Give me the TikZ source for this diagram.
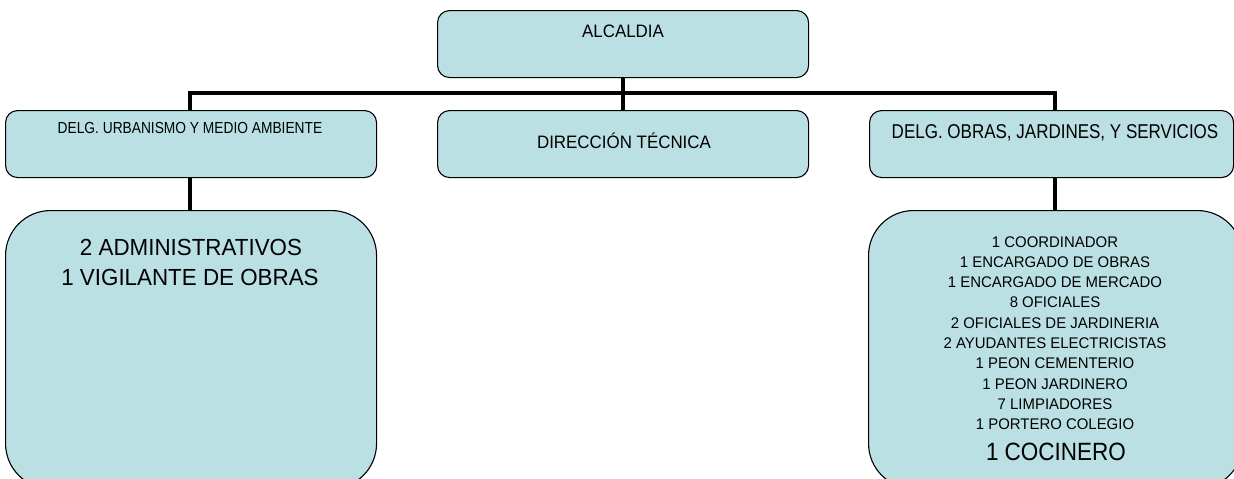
\documentclass[tikz,border=0pt]{standalone}
\usepackage{fontspec}
\setmainfont{Liberation Sans}
\definecolor{boxfill}{RGB}{187,224,227}
\newcommand\myfs[2]{\fontsize{#1}{#1}\selectfont\addfontfeature{FakeStretch=#2}}
\begin{document}
\begin{tikzpicture}[x=1pt,y=-1pt,
  smallbox/.style={draw=black,line width=1.1pt,fill=boxfill,rounded corners=12pt,inner sep=0pt},
  bigbox/.style={draw=black,line width=1.1pt,fill=boxfill,rounded corners=45pt,inner sep=0pt},
  conn/.style={draw=black,line width=4.5pt},
  lbl/.style={anchor=base,inner sep=0pt,text=black}]
\useasboundingbox (0,0) rectangle (1234,479);
\clip (0,0) rectangle (1234,479);
% connectors
\coordinate (alcb) at (623,77);
\coordinate (bar) at (623,93);
\coordinate (urbt) at (190,110);
\coordinate (dirt) at (623,110);
\coordinate (obrt) at (1055,110);
\coordinate (urbb) at (190,177);
\coordinate (obrb) at (1055,177);
\coordinate (admt) at (190,210);
\coordinate (pert) at (1055,210);
\draw[conn] (alcb) -- (dirt);
\draw[conn] (urbt) |- (bar) -| (obrt);
\draw[conn] (urbb) -- (admt);
\draw[conn] (obrb) -- (pert);
% boxes
\path (437,10) node[smallbox,anchor=north west,minimum width=371pt,minimum height=67pt] (alc) {};
\path (5,110) node[smallbox,anchor=north west,minimum width=371pt,minimum height=67pt] (urb) {};
\path (437,110) node[smallbox,anchor=north west,minimum width=371pt,minimum height=67pt] (dir) {};
\path (869,110) node[smallbox,anchor=north west,minimum width=364pt,minimum height=67pt] (obr) {};
\path (5,210) node[bigbox,anchor=north west,minimum width=371pt,minimum height=278pt] (adm) {};
\path (868,210) node[bigbox,anchor=north west,minimum width=374pt,minimum height=278pt] (per) {};
% labels
\node[lbl,font=\myfs{18}{0.94}] (talc) at (623,37) {ALCALDIA};
\node[lbl,font=\myfs{16}{0.86}] (turb) at (190,133) {DELG. URBANISMO Y MEDIO AMBIENTE};
\node[lbl,font=\myfs{18}{0.94}] (tdir) at (624,148) {DIRECCIÓN TÉCNICA};
\node[lbl,font=\myfs{20}{0.85}] (tobr) at (1055,138) {DELG. OBRAS, JARDINES, Y SERVICIOS};
\node[lbl,font=\myfs{23.3}{0.96}] (ta1) at (191,255) {2 ADMINISTRATIVOS};
\node[lbl,font=\myfs{23.3}{0.96}] (ta2) at (190,285) {1 VIGILANTE DE OBRAS};
\foreach \t [count=\i from 0] in {1 COORDINADOR,1 ENCARGADO DE OBRAS,1 ENCARGADO DE MERCADO,8 OFICIALES,2 OFICIALES DE JARDINERIA,2 AYUDANTES ELECTRICISTAS,1 PEON CEMENTERIO,1 PEON JARDINERO,7 LIMPIADORES,1 PORTERO COLEGIO}
  \node[lbl,font=\myfs{15.4}{0.97}] (tp\i) at (1055,247+20.33*\i) {\t};
\node[lbl,font=\myfs{25}{0.9}] (tcoc) at (1056,460) {1 COCINERO};
\end{tikzpicture}
\end{document}
